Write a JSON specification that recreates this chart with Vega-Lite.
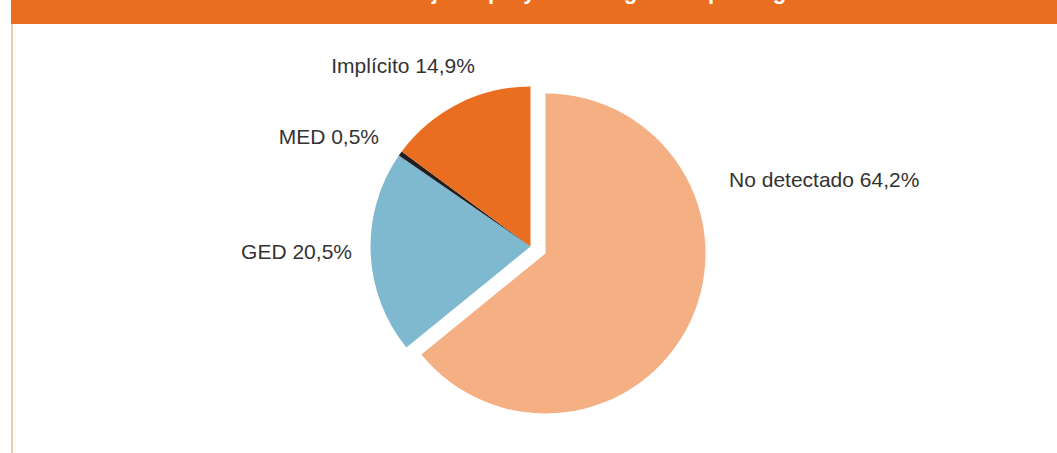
{
  "$schema": "https://vega.github.io/schema/vega-lite/v6.json",
  "padding": {"left": 11, "top": 0, "right": 0, "bottom": 0},
  "background": "white",
  "spacing": 0,
  "bounds": "flush",
  "config": {"view": {"stroke": null}},
  "vconcat": [
    {
      "width": 1046,
      "height": 24,
      "view": {"fill": "#E96E1F", "stroke": null},
      "data": {"values": [{"titulo": "Gráfico 3. Porcentaje de proyectos según el tipo de género"}]},
      "mark": {"type": "text", "clip": true, "color": "white", "font": "Liberation Sans", "fontWeight": "bold", "fontSize": 22, "baseline": "alphabetic", "align": "center", "dy": -13.5, "dx": 4},
      "encoding": {"text": {"field": "titulo", "type": "nominal"}}
    },
    {
      "spacing": 0,
      "bounds": "flush",
      "hconcat": [
        {
          "width": 2,
          "height": 429,
          "view": {"fill": "#F7C9A4", "stroke": null},
          "data": {"values": [{"a": 1}]},
          "mark": {"type": "text"},
          "encoding": {"text": {"value": ""}}
        },
        {
          "width": 1035,
          "height": 429,
          "view": {"stroke": null},
          "data": {"values": [
            {"cat": "No detectado", "pct": 64.2, "ord": 1, "label": "No detectado 64,2%"},
            {"cat": "GED", "pct": 20.5, "ord": 2, "label": "GED 20,5%"},
            {"cat": "MED", "pct": 0.5, "ord": 3, "label": "MED 0,5%"},
            {"cat": "Implícito", "pct": 14.9, "ord": 4, "label": "Implícito 14,9%"}
          ]},
          "layer": [
            {
              "mark": {"type": "arc", "outerRadius": 160, "yOffset": 8},
              "encoding": {
                "theta": {"field": "pct", "type": "quantitative", "stack": true},
                "order": {"field": "ord", "type": "quantitative"},
                "color": {"field": "cat", "type": "nominal", "legend": null,
                  "scale": {"domain": ["No detectado", "GED", "MED", "Implícito"], "range": ["#F4B083", "#7FB9CF", "#231F20", "#E96E1F"]}},
                "fillOpacity": {"condition": {"test": "datum.cat === 'No detectado'", "value": 0}, "value": 1}
              }
            },
            {
              "mark": {"type": "arc", "outerRadius": 160, "xOffset": 15, "yOffset": 15},
              "encoding": {
                "theta": {"field": "pct", "type": "quantitative", "stack": true},
                "order": {"field": "ord", "type": "quantitative"},
                "color": {"field": "cat", "type": "nominal", "legend": null},
                "fillOpacity": {"condition": {"test": "datum.cat === 'No detectado'", "value": 1}, "value": 0}
              }
            },
            {
              "transform": [{"filter": "datum.cat === 'Implícito'"}],
              "mark": {"type": "text", "font": "Liberation Sans", "fontSize": 21, "color": "#333333", "align": "center", "baseline": "middle", "radius": 213.7, "theta": -0.639},
              "encoding": {"text": {"field": "label", "type": "nominal"}}
            },
            {
              "transform": [{"filter": "datum.cat === 'MED'"}],
              "mark": {"type": "text", "font": "Liberation Sans", "fontSize": 21, "color": "#333333", "align": "right", "baseline": "middle", "radius": 181.8, "theta": -0.985},
              "encoding": {"text": {"field": "label", "type": "nominal"}}
            },
            {
              "transform": [{"filter": "datum.cat === 'GED'"}],
              "mark": {"type": "text", "font": "Liberation Sans", "fontSize": 21, "color": "#333333", "align": "right", "baseline": "middle", "radius": 179.1, "theta": -1.652},
              "encoding": {"text": {"field": "label", "type": "nominal"}}
            },
            {
              "transform": [{"filter": "datum.cat === 'No detectado'"}],
              "mark": {"type": "text", "font": "Liberation Sans", "fontSize": 21, "color": "#333333", "align": "left", "baseline": "middle", "radius": 206.7, "theta": 1.289},
              "encoding": {"text": {"field": "label", "type": "nominal"}}
            }
          ]
        }
      ]
    }
  ]
}
